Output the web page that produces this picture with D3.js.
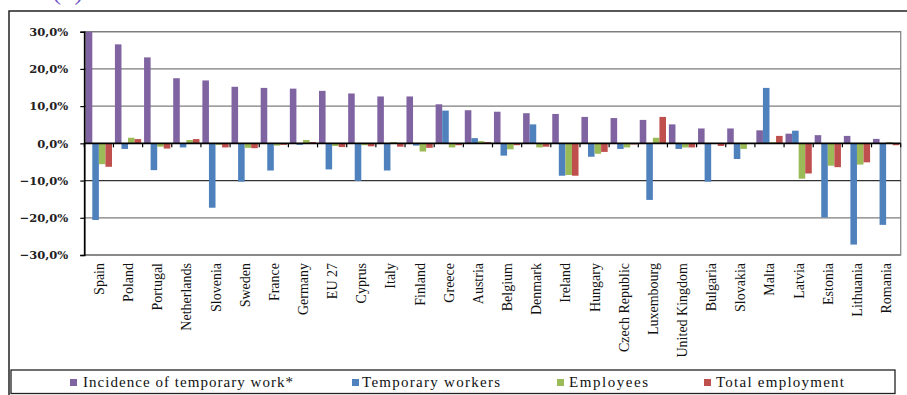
<!DOCTYPE html>
<html>
<head>
<meta charset="utf-8">
<script src="https://cdn.jsdelivr.net/npm/d3@7"></script>
<style>
  html, body { margin: 0; padding: 0; background: #fff; }
  svg { display: block; }
</style>
</head>
<body>
<svg id="chart" width="907" height="395"></svg>
<script>
// Change in temporary work by country (%)
const countries = ["Spain","Poland","Portugal","Netherlands","Slovenia","Sweden","France","Germany","EU 27","Cyprus","Italy","Finland","Greece","Austria","Belgium","Denmark","Ireland","Hungary","Czech Republic","Luxembourg","United Kingdom","Bulgaria","Slovakia","Malta","Latvia","Estonia","Lithuania","Romania"];

const seriesNames = ["Incidence of temporary work*","Temporary workers","Employees","Total employment"];

const incidence = [30.0,26.6,23.1,17.5,16.9,15.2,14.9,14.7,14.1,13.4,12.6,12.6,10.5,8.9,8.5,8.1,7.9,7.1,6.8,6.3,5.1,4.0,4.0,3.5,2.6,2.2,2.0,1.2];
const tempWorkers = [-20.6,-1.5,-7.2,-1.1,-17.3,-10.3,-7.3,-0.4,-7.0,-10.1,-7.3,-0.6,8.8,1.4,-3.3,5.1,-8.7,-3.6,-1.5,-15.2,-1.5,-10.3,-4.2,14.9,3.4,-19.9,-27.2,-21.9];
const employees = [-5.6,1.5,-0.9,0.9,-0.4,-1.2,-0.6,0.9,-0.7,-0.5,0.35,-2.2,-1.1,0.6,-1.6,-1.1,-8.5,-2.8,-1.1,1.5,-1.1,-0.1,-1.5,0.3,-9.5,-6.0,-5.7,0.35];
const totalEmployment = [-6.3,1.15,-1.4,1.15,-1.1,-1.3,-0.4,0.35,-1.0,-0.8,-0.9,-1.2,-0.5,0.35,-0.5,-0.9,-8.7,-2.3,-0.3,7.1,-1.1,-0.7,-0.1,2.0,-8.1,-6.4,-5.1,-0.5];

const yTicks = [30,20,10,0,-10,-20,-30];
const colors = ["#8064A2","#4F81BD","#9BBB59","#C0504D"];

const table = countries.map((c, i) => ({
  country: c,
  values: [incidence[i], tempWorkers[i], employees[i], totalEmployment[i]]
}));

const svg = d3.select("#chart");
const plot = { left: 84.3, right: 900.7, top: 31.7, bottom: 255 };

const x = d3.scaleBand().domain(countries).range([plot.left, plot.right]).padding(0);
const x1 = d3.scaleBand().domain(d3.range(4)).range([0, x.bandwidth()]).paddingInner(0).paddingOuter(0.22);
const y = d3.scaleLinear().domain([-30, 30]).range([plot.bottom, plot.top]);

const fmt = v => d3.format(".1f")(v).replace(".", ",") + "%";

// outer frame
svg.append("path")
  .attr("d", "M9,395 L9,11 L907,11")
  .attr("fill", "none").attr("stroke", "#222").attr("stroke-width", 1.5);

// panel tag, clipped by the top edge
svg.append("text")
  .attr("x", 52).attr("y", -1)
  .attr("font-family", "Liberation Serif").attr("font-size", 27)
  .attr("fill", "#6f55c8").text("(b)");

// plot area border
svg.append("rect")
  .attr("x", plot.left).attr("y", plot.top)
  .attr("width", plot.right - plot.left).attr("height", plot.bottom - plot.top)
  .attr("fill", "none").attr("stroke", "#8a8a8a").attr("stroke-width", 1.3);

// gridlines
svg.append("g").selectAll("line")
  .data(yTicks.filter(t => t !== 0))
  .join("line")
  .attr("x1", plot.left).attr("x2", plot.right)
  .attr("y1", d => y(d)).attr("y2", d => y(d))
  .attr("stroke", d => d === -10 ? "#333" : "#7d7d7d").attr("stroke-width", 1.3);

// bars
const groups = svg.append("g").selectAll("g")
  .data(table).join("g")
  .attr("transform", d => `translate(${x(d.country)},0)`);

groups.selectAll("rect")
  .data(d => d.values.map((v, k) => ({ v, k })))
  .join("rect")
  .attr("x", d => x1(d.k))
  .attr("width", x1.bandwidth())
  .attr("y", d => y(Math.max(0, d.v)))
  .attr("height", d => Math.abs(y(d.v) - y(0)))
  .attr("fill", d => colors[d.k]);

// y axis
const yAxis = d3.axisLeft(y).tickValues(yTicks).tickSize(4).tickFormat(fmt);
const gy = svg.append("g").attr("transform", `translate(${plot.left},0)`).call(yAxis);
gy.select(".domain").attr("stroke", "#000").attr("stroke-width", 1.6);
gy.selectAll(".tick line").attr("stroke", "#000").attr("stroke-width", 1.2);
gy.selectAll(".tick text")
  .attr("x", -16)
  .attr("font-family", "DejaVu Serif").attr("font-weight", "bold")
  .attr("font-size", 11.5).attr("fill", "#222");

// zero line with category ticks at band boundaries
const gx = svg.append("g").attr("transform", `translate(0,${y(0)})`);
gx.append("line")
  .attr("x1", plot.left).attr("x2", plot.right)
  .attr("stroke", "#000").attr("stroke-width", 1.6);
gx.selectAll(".bt")
  .data(countries.concat(["__end"]))
  .join("line")
  .attr("class", "bt")
  .attr("x1", (d, i) => plot.left + i * x.step())
  .attr("x2", (d, i) => plot.left + i * x.step())
  .attr("y1", 0).attr("y2", 4)
  .attr("stroke", "#000").attr("stroke-width", 1.2);

// category labels
svg.append("g").selectAll("text")
  .data(countries).join("text")
  .attr("transform", d => `translate(${x(d) + x.bandwidth() / 2 + 5},263) rotate(-90)`)
  .attr("text-anchor", "end")
  .attr("font-family", "Liberation Serif").attr("font-size", 14)
  .attr("fill", "#111")
  .text(d => d);

// legend
svg.append("rect")
  .attr("x", 11).attr("y", 370).attr("width", 884).attr("height", 23.5)
  .attr("fill", "#fff").attr("stroke", "#222").attr("stroke-width", 1.3);

const legendItems = [
  { sx: 70, tx: 83, w: 210 },
  { sx: 352, tx: 362, w: 138 },
  { sx: 557, tx: 569, w: 79 },
  { sx: 704, tx: 716, w: 128 }
];
const lg = svg.append("g").selectAll("g")
  .data(seriesNames).join("g");
lg.append("rect")
  .attr("x", (d, i) => legendItems[i].sx).attr("y", 379)
  .attr("width", 7).attr("height", 7)
  .attr("fill", (d, i) => colors[i]);
lg.append("text")
  .attr("x", (d, i) => legendItems[i].tx).attr("y", 387)
  .attr("font-family", "Liberation Serif").attr("font-size", 15)
  .attr("textLength", (d, i) => legendItems[i].w)
  .attr("lengthAdjust", "spacing")
  .attr("fill", "#111")
  .text(d => d);
</script>
</body>
</html>
